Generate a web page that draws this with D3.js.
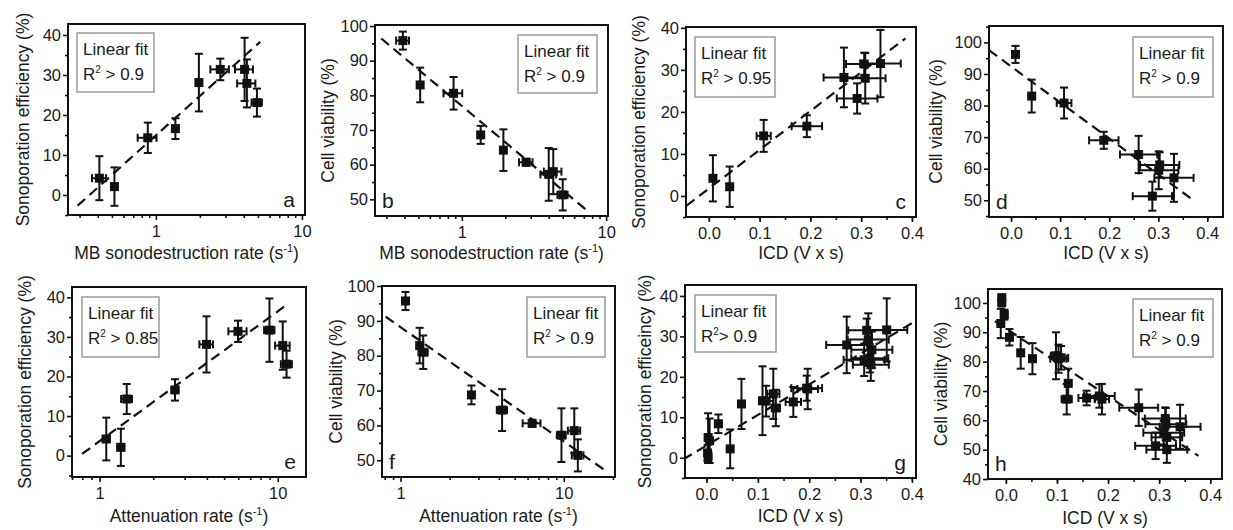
<!DOCTYPE html>
<html><head><meta charset="utf-8">
<script src="https://cdn.jsdelivr.net/npm/d3@7"></script>
<style>body{margin:0;background:#fff}svg{display:block}text{font-family:"Liberation Sans",Arial,sans-serif;fill:#1a1a1a}</style>
</head><body><svg id="chart" width="1233" height="530"></svg>
<script>
// ---------- DATA: [x, y, xErr, yErr] ----------
const ptsA = [[0.41,4.2,0.045,5.5],[0.52,2.1,0.02,4.8],[0.88,14.3,0.13,3.8],[1.36,16.6,0.05,2.6],[1.97,28.1,0.05,7.2],[2.76,31.4,0.4,2.7],[4.05,31.4,0.57,7.9],[4.2,27.9,0.6,6.0],[4.92,23.1,0.4,3.5]];
const ptsB = [[0.39,95.8,0.04,2.6],[0.514,83.0,0.02,5.0],[0.876,80.6,0.13,4.7],[1.35,68.6,0.05,2.6],[1.94,64.2,0.05,6.0],[2.79,60.7,0.3,1.0],[4.0,57.2,0.5,7.6],[4.3,58.0,0.6,6.5],[5.0,51.3,0.4,4.5]];
const ptsC = [[0.008,4.2,0.004,5.5],[0.041,2.2,0.004,4.8],[0.108,14.3,0.014,3.8],[0.193,16.6,0.03,2.6],[0.266,28.2,0.04,7.1],[0.292,23.2,0.04,3.6],[0.306,31.4,0.036,2.7],[0.308,28.0,0.04,6.0],[0.338,31.5,0.04,8.0]];
const ptsD = [[0.009,96.2,0.004,2.7],[0.042,83.0,0.004,5.2],[0.108,80.8,0.015,4.9],[0.189,69.0,0.03,2.7],[0.260,64.5,0.038,5.9],[0.303,61.2,0.04,4.0],[0.301,59.5,0.04,6.0],[0.332,57.1,0.04,7.6],[0.288,51.3,0.04,4.6]];
const ptsE = [[1.09,4.2,0.05,5.4],[1.316,2.1,0.06,4.7],[1.42,14.3,0.1,3.8],[2.65,16.6,0.12,2.7],[3.98,28.1,0.35,7.1],[5.98,31.4,0.7,2.7],[8.98,31.7,0.6,8.0],[10.66,27.8,1.0,6.1],[11.2,23.1,0.8,3.4]];
const ptsF = [[1.073,95.7,0.03,2.6],[1.31,82.9,0.05,5.1],[1.377,81.0,0.09,4.8],[2.72,68.75,0.1,2.7],[4.19,64.4,0.3,6.0],[6.4,60.6,0.8,1.0],[9.68,57.2,0.6,7.7],[11.6,58.5,1.0,6.4],[12.2,51.4,1.0,4.6]];
const ptsG = [[0.003,5.0,0.003,6.0],[0.006,4.2,0.003,5.5],[0.002,1.2,0.003,2.0],[0.003,0.2,0.003,1.5],[0.023,8.4,0.006,2.3],[0.046,2.2,0.004,4.8],[0.068,13.3,0.004,6.2],[0.109,14.1,0.006,8.5],[0.116,14.0,0.014,3.8],[0.130,15.8,0.012,6.2],[0.135,12.3,0.008,4.5],[0.169,13.8,0.015,3.7],[0.195,17.2,0.03,3.1],[0.197,17.0,0.02,5.0],[0.273,27.9,0.04,7.0],[0.312,31.5,0.036,2.9],[0.315,29.2,0.04,6.5],[0.318,24.6,0.036,3.5],[0.307,24.2,0.04,4.0],[0.320,23.0,0.035,4.0],[0.351,31.6,0.04,7.8],[0.322,26.7,0.04,4.5]];
const ptsH = [[-0.008,101.8,0.003,1.0],[-0.008,100.3,0.003,1.5],[-0.003,96.0,0.003,1.7],[-0.010,93.0,0.004,5.0],[0.007,88.3,0.006,2.8],[0.029,83.0,0.005,5.4],[0.052,81.0,0.006,5.3],[0.098,82.0,0.01,8.0],[0.103,81.0,0.016,4.8],[0.108,81.3,0.014,4.0],[0.122,72.6,0.006,5.0],[0.119,67.2,0.01,5.2],[0.158,67.6,0.016,2.5],[0.183,68.3,0.03,4.0],[0.188,67.2,0.014,5.2],[0.260,64.3,0.038,6.2],[0.312,60.6,0.04,3.8],[0.313,58.7,0.04,5.5],[0.309,55.8,0.04,4.0],[0.315,54.2,0.03,4.0],[0.341,57.8,0.04,7.5],[0.293,51.3,0.04,4.5],[0.315,50.0,0.04,4.5]];

// Linear fits: y = a + b * x  (x = log10(rate) for log panels), drawn over xRange
const fitA = {a:14.9, b:32.75, xRange:[0.291,5.18]};
const fitB = {a:76.95, b:-34.8, xRange:[0.276,7.19]};
const fitC = {a:1.76, b:92.3, xRange:[-0.044,0.387]};
const fitD = {a:92.4, b:-114.1, xRange:[-0.045,0.374]};
const fitE = {a:3.66, b:32.8, xRange:[0.797,10.9]};
const fitF = {a:88.2, b:-32.8, xRange:[0.81,17.6]};
const fitG = {a:3.03, b:75.6, xRange:[-0.0455,0.4]};
const fitH = {a:91.3, b:-115.2, xRange:[-0.0216,0.377]};

const r2Labels = ["0.9","0.9","0.95","0.9","0.85","0.9","0.9","0.9"];
const panelLetters = ["a","b","c","d","e","f","g","h"];
const ticksSE = [0,10,20,30,40];
const ticksCV = [50,60,70,80,90,100];
const ticksCVh = [40,50,60,70,80,90,100];
const ticksICD = [0.0,0.1,0.2,0.3,0.4];
const ticksLog = [1,10];

// ---------- LAYOUT ----------
const panels = [
 {pts:ptsA, fit:fitA, log:true, xd:[0.25,10.5], yd:[-5,42.75], box:[68,24,305,215], yt:ticksSE, xt:ticksLog, yTitle:"Sonoporation efficiency (%)", xTitle:"mb", yTitleX:23, letter:"br", leg:[77,33,77,59], xTitleY:259},
 {pts:ptsB, fit:fitB, log:true, xd:[0.25,10.3], yd:[45.2,100.3], box:[375,25,608,216], yt:ticksCV, xt:ticksLog, yTitle:"Cell viability (%)", xTitle:"mb", yTitleX:328, letter:"bl", leg:[518,35,79,58], xTitleY:259},
 {pts:ptsC, fit:fitC, log:false, xd:[-0.045,0.408], yd:[-5,40.2], box:[686,27,916,217], yt:ticksSE, xt:ticksICD, yTitle:"Sonoporation efficiency (%)", xTitle:"icd", yTitleX:639, letter:"br", leg:[695,37,80,60], xTitleY:259},
 {pts:ptsD, fit:fitD, log:false, xd:[-0.045,0.432], yd:[44.7,105.2], box:[989,26,1223,217], yt:ticksCV, xt:ticksICD, yTitle:"Cell viability (%)", xTitle:"icd", yTitleX:936, letter:"bl", leg:[1133,37,80,60], xTitleY:259},
 {pts:ptsE, fit:fitE, log:true, xd:[0.7,14.4], yd:[-5.4,42.6], box:[72,287,306,477], yt:ticksSE, xt:ticksLog, yTitle:"Sonoporation efficiency (%)", xTitle:"att", yTitleX:25, letter:"br", leg:[82,297,77,60], xTitleY:522},
 {pts:ptsF, fit:fitF, log:true, xd:[0.77,20.6], yd:[45.2,100], box:[382,286,615,477], yt:ticksCV, xt:ticksLog, yTitle:"Cell viability (%)", xTitle:"att", yTitleX:336, letter:"bl", leg:[527,297,78,60], xTitleY:522},
 {pts:ptsG, fit:fitG, log:false, xd:[-0.042,0.408], yd:[-5,42.7], box:[685,285,916,478], yt:ticksSE, xt:ticksICD, yTitle:"Sonoporation efficeincy (%)", xTitle:"icd", yTitleX:645, letter:"br", leg:[695,295,81,57], xTitleY:522},
 {pts:ptsH, fit:fitH, log:false, xd:[-0.035,0.423], yd:[40,104.75], box:[988,289,1222,479], yt:ticksCVh, xt:ticksICD, yTitle:"Cell viability (%)", xTitle:"icd", yTitleX:941, letter:"bl", leg:[1133,299,80,58], xTitleY:524}
];

const svg = d3.select("#chart");
const FONT = '"Liberation Sans",Arial,sans-serif';

function xTitleText(t, kind){
  if(kind==="icd"){ t.text("ICD (V x s)"); return; }
  const base = kind==="mb" ? "MB sonodestruction rate (s" : "Attenuation rate (s";
  t.append("tspan").text(base);
  t.append("tspan").attr("dy",-7).attr("font-size","11px").text("-1");
  t.append("tspan").attr("dy",7).text(")");
}

panels.forEach((p,i)=>{
  const [x0,y0,x1,y1] = p.box;
  const g = svg.append("g");
  const x = (p.log ? d3.scaleLog() : d3.scaleLinear()).domain(p.xd).range([x0,x1]);
  const y = d3.scaleLinear().domain(p.yd).range([y1,y0]);

  // minor ticks
  let xMinor;
  if(p.log){
    xMinor = [];
    [0.1,1,10].forEach(d=>{ for(let k=2;k<=9;k++){ const v=d*k; if(v>=p.xd[0]&&v<=p.xd[1]) xMinor.push(v);} });
  } else {
    xMinor = d3.range(-0.05,0.45,0.05).filter(v=>v>=p.xd[0]-1e-9&&v<=p.xd[1]);
  }
  const yMinor = d3.range(Math.ceil(p.yd[0]/5)*5, p.yd[1], 5).filter(v=>v%10!==0);

  const styleTicks = s=>{s.select(".domain").remove(); s.selectAll("line").attr("stroke","#111").attr("stroke-width",1.6);};
  g.append("g").attr("transform",`translate(0,${y1})`)
    .call(d3.axisBottom(x).tickValues(xMinor).tickSize(3).tickFormat("")).call(styleTicks);
  g.append("g").attr("transform",`translate(${x0},0)`)
    .call(d3.axisLeft(y).tickValues(yMinor).tickSize(3).tickFormat("")).call(styleTicks);

  const xfmt = p.log ? d3.format("d") : d3.format(".1f");
  g.append("g").attr("transform",`translate(0,${y1})`)
    .call(d3.axisBottom(x).tickValues(p.xt).tickSize(5).tickPadding(5).tickFormat(xfmt))
    .call(styleTicks)
    .call(s=>s.selectAll("text").attr("font-size","16.5px").attr("fill","#1a1a1a").attr("font-family",FONT));
  g.append("g").attr("transform",`translate(${x0},0)`)
    .call(d3.axisLeft(y).tickValues(p.yt).tickSize(5).tickPadding(2).tickFormat(d3.format("d")))
    .call(styleTicks)
    .call(s=>s.selectAll("text").attr("font-size","16.5px").attr("fill","#1a1a1a").attr("font-family",FONT));

  // clip
  const cid = "clip"+i;
  svg.append("clipPath").attr("id",cid).append("rect").attr("x",x0).attr("y",y0).attr("width",x1-x0).attr("height",y1-y0);
  const plot = g.append("g").attr("clip-path",`url(#${cid})`);

  // fit line
  const fx = p.fit.xRange;
  const fy = v => p.fit.a + p.fit.b*(p.log ? Math.log10(v) : v);
  plot.append("line")
    .attr("x1",x(fx[0])).attr("y1",y(fy(fx[0]))).attr("x2",x(fx[1])).attr("y2",y(fy(fx[1])))
    .attr("stroke","#111").attr("stroke-width",2.2).attr("stroke-dasharray","10,6");

  // error bars
  const cap = 4;
  const eb = plot.append("g").attr("stroke","#111").attr("stroke-width",2).attr("fill","none");
  p.pts.forEach(d=>{
    const [vx,vy,ex,ey] = d;
    const cx = x(vx), cy = y(vy);
    const ya = y(vy+ey), yb = y(vy-ey);
    eb.append("line").attr("x1",cx).attr("x2",cx).attr("y1",ya).attr("y2",yb);
    eb.append("line").attr("x1",cx-cap).attr("x2",cx+cap).attr("y1",ya).attr("y2",ya);
    eb.append("line").attr("x1",cx-cap).attr("x2",cx+cap).attr("y1",yb).attr("y2",yb);
    if(ex>0){
      const xa = x(vx-ex), xb = x(vx+ex);
      if(xb-xa>6){
        eb.append("line").attr("x1",xa).attr("x2",xb).attr("y1",cy).attr("y2",cy);
        eb.append("line").attr("x1",xa).attr("x2",xa).attr("y1",cy-cap).attr("y2",cy+cap);
        eb.append("line").attr("x1",xb).attr("x2",xb).attr("y1",cy-cap).attr("y2",cy+cap);
      }
    }
  });
  plot.append("g").selectAll("rect").data(p.pts).join("rect")
    .attr("x",d=>x(d[0])-4.5).attr("y",d=>y(d[1])-4.5).attr("width",9).attr("height",9).attr("fill","#111");

  // frame
  g.append("rect").attr("x",x0).attr("y",y0).attr("width",x1-x0).attr("height",y1-y0)
    .attr("fill","none").attr("stroke","#111").attr("stroke-width",2);

  // legend
  const [lx,ly,lw,lh] = p.leg;
  g.append("rect").attr("x",lx).attr("y",ly).attr("width",lw).attr("height",lh)
    .attr("fill","#fff").attr("stroke","#9a9a9a").attr("stroke-width",1.5);
  g.append("text").attr("x",lx+6).attr("y",ly+22).attr("font-size","17px").text("Linear fit");
  const r = g.append("text").attr("x",lx+6).attr("y",ly+47).attr("font-size","17px");
  r.append("tspan").text("R");
  r.append("tspan").attr("dy",-7).attr("font-size","10px").text("2");
  r.append("tspan").attr("dy",7).text((i===6?"> ":" > ")+r2Labels[i]);

  // panel letter
  const lt = g.append("text").attr("font-size","21px").attr("y",y1-8).text(panelLetters[i]);
  if(p.letter==="br") lt.attr("x",x1-10).attr("text-anchor","end");
  else lt.attr("x",x0+7);

  // titles
  const xt = g.append("text").attr("x",(x0+x1)/2).attr("y",p.xTitleY).attr("text-anchor","middle").attr("font-size","17.5px");
  xTitleText(xt,p.xTitle);
  g.append("text").attr("transform",`translate(${p.yTitleX},${(y0+y1)/2}) rotate(-90)`)
    .attr("text-anchor","middle").attr("dominant-baseline","central").attr("font-size","17.5px").text(p.yTitle);
});
</script>
</body></html>
